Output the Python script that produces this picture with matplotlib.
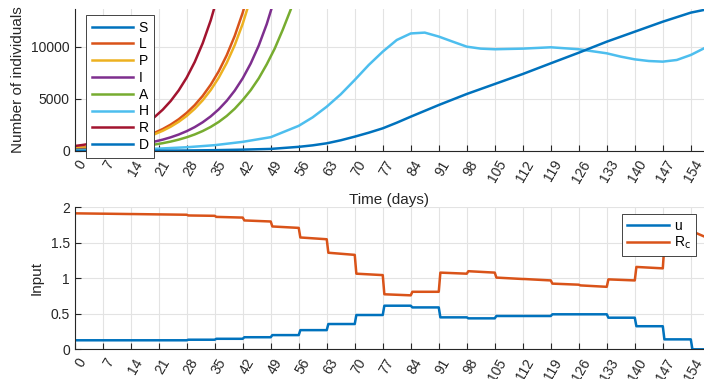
import numpy as np
import matplotlib
matplotlib.use('Agg')
import matplotlib.pyplot as plt
from matplotlib.transforms import ScaledTranslation

plt.rcParams['font.family'] = ['Liberation Sans', 'DejaVu Sans']
plt.rcParams['font.size'] = 10

# цвета как в MATLAB
C_BLUE = '#0072BD'
C_ORANGE = '#D95319'
C_YELLOW = '#EDB120'
C_PURPLE = '#7E2F8E'
C_GREEN = '#77AC30'
C_CYAN = '#4DBEEE'
C_RED = '#A2142F'
AX_COL = '#262626'

# --- верхний график: численность ---
t_exp = list(range(0, 58, 2))
R_vals = [480, 582, 705, 854, 1035, 1254, 1520, 1841, 2231, 2703, 3276, 3969, 4809, 5827,
          7061, 8556, 10367, 12562, 15221]
L_vals = [279, 335, 403, 485, 583, 700, 842, 1012, 1216, 1462, 1757, 2112, 2539, 3052, 3668,
          4409, 5300, 6371, 7658, 9205, 11064, 13299, 15986]
P_vals = [257, 308, 371, 446, 536, 644, 775, 931, 1119, 1345, 1616, 1943, 2336, 2808, 3375,
          4056, 4876, 5861, 7045, 8469, 10179, 12235, 14707]
I_vals = [142, 171, 206, 248, 298, 359, 432, 520, 626, 754, 908, 1093, 1316, 1584, 1907, 2296,
          2764, 3328, 4006, 4823, 5806, 6990, 8415, 10131, 12197, 14684]
A_vals = [96, 116, 139, 168, 203, 244, 295, 356, 429, 517, 624, 752, 907, 1094, 1320, 1592,
          1920, 2316, 2793, 3369, 4063, 4900, 5850, 6980, 8330, 9850, 11650, 13600, 15900]

t_H = [0, 7, 14, 21, 28, 35, 42, 49, 56, 59.5, 63, 66.5, 70, 73.5, 77, 80.5, 84, 87.5, 91,
       94.5, 98, 101.5, 105, 112, 119, 126, 133, 136.5, 140, 143.5, 147, 150.5, 154, 157.3]
H_vals = [40, 80, 140, 230, 360, 560, 880, 1330, 2420, 3240, 4260, 5450, 6830, 8270, 9550,
          10670, 11300, 11380, 11000, 10510, 10030, 9840, 9780, 9840, 9970, 9780, 9390,
          9070, 8810, 8650, 8590, 8750, 9230, 9870]

t_D = [0, 7, 14, 21, 28, 35, 42, 49, 56, 59.5, 63, 66.5, 70, 73.5, 77, 80.5, 84, 91, 98,
       105, 112, 119, 126, 133, 140, 147, 154, 157.3]
D_vals = [0, 5, 15, 30, 50, 80, 130, 200, 400, 545, 740, 1030, 1380, 1760, 2180, 2720, 3300,
          4420, 5480, 6440, 7400, 8430, 9450, 10510, 11470, 12430, 13300, 13560]

# --- нижний график: управление u и R_c по неделям ---
week_start = [0, 7, 14, 21, 28, 35, 42, 49, 56, 63, 70, 77, 84, 91, 98, 105, 112, 119, 126,
              133, 140, 147, 154]
week_end = week_start[1:] + [157.3]
u_week = [0.127, 0.127, 0.127, 0.127, 0.135, 0.148, 0.17, 0.2, 0.27, 0.356, 0.483, 0.614,
          0.59, 0.45, 0.436, 0.469, 0.469, 0.493, 0.493, 0.445, 0.325, 0.14, 0.0]
Rc_start = [1.915, 1.91, 1.905, 1.90, 1.885, 1.865, 1.815, 1.73, 1.575, 1.36, 1.065, 0.775,
            0.81, 1.08, 1.10, 1.01, 0.99, 0.925, 0.90, 0.985, 1.16, 1.47, 1.66]
Rc_end = [1.91, 1.905, 1.90, 1.895, 1.88, 1.855, 1.80, 1.71, 1.55, 1.33, 1.045, 0.76,
          0.81, 1.065, 1.08, 0.99, 0.97, 0.91, 0.88, 0.97, 1.14, 1.45, 1.59]

x_ticks = list(range(0, 155, 7))

W, H = 704, 379
fig = plt.figure(figsize=(W / 100, H / 100), dpi=100)
x0 = 74.7
xmax = 157.3
ax1 = fig.add_axes([x0 / W, 1 - 151 / H, (W - x0) / W, 142 / H])
ax2 = fig.add_axes([x0 / W, 1 - 349.3 / H, (W - x0) / W, 142 / H])

lw = 1.8
ax1.plot([], [], color=C_BLUE, lw=lw, label='S')
ax1.plot(t_exp[:len(L_vals)], L_vals, color=C_ORANGE, lw=lw, label='L')
ax1.plot(t_exp[:len(P_vals)], P_vals, color=C_YELLOW, lw=lw, label='P')
ax1.plot(t_exp[:len(I_vals)], I_vals, color=C_PURPLE, lw=lw, label='I')
ax1.plot(t_exp[:len(A_vals)], A_vals, color=C_GREEN, lw=lw, label='A')
ax1.plot(t_H, H_vals, color=C_CYAN, lw=lw, label='H')
ax1.plot(t_exp[:len(R_vals)], R_vals, color=C_RED, lw=lw, label='R')
ax1.plot(t_D, D_vals, color=C_BLUE, lw=lw, label='D')
ax1.set_ylim(0, 13650)
ax1.set_yticks([0, 5000, 10000])

# ступеньки: небольшая рампа в начале каждой недели
xs, us, rs = [], [], []
for s, e, u, r0, r1 in zip(week_start, week_end, u_week, Rc_start, Rc_end):
    st = s + 0.4 if s > 0 else s
    xs += [st, e]
    us += [u, u]
    rs += [r0, r1]
ax2.plot(xs, us, color=C_BLUE, lw=lw, label='u')
ax2.plot(xs, rs, color=C_ORANGE, lw=lw, label=r'R$_\mathrm{c}$')
ax2.set_ylim(0, 2)
ax2.set_yticks([0, 0.5, 1, 1.5, 2])
ax2.set_yticklabels(['0', '0.5', '1', '1.5', '2'])

for ax in (ax1, ax2):
    ax.set_xlim(0, xmax)
    ax.set_xticks(x_ticks)
    ax.set_xticklabels([str(v) for v in x_ticks])
    ax.grid(True, color='#e3e3e3', lw=0.8)
    ax.set_axisbelow(True)
    for side in ('top', 'right'):
        ax.spines[side].set_visible(False)
    for side in ('left', 'bottom'):
        ax.spines[side].set_color(AX_COL)
        ax.spines[side].set_linewidth(0.8)
    ax.tick_params(direction='in', length=4, width=0.8, color=AX_COL,
                   labelcolor=AX_COL, labelsize=10)
    ax.tick_params(axis='x', pad=5)
    offset = ScaledTranslation(0.02, 0, fig.dpi_scale_trans)
    for lab in ax.get_xticklabels():
        lab.set_rotation(60)
        lab.set_ha('right')
        lab.set_va('top')
        lab.set_rotation_mode('anchor')
        lab.set_transform(lab.get_transform() + offset)

ax1.set_ylabel('Number of individuals', color=AX_COL, fontsize=11)
ax1.yaxis.set_label_coords((25 - x0) / (W - x0), 0.5)
ax1.set_xlabel('Time (days)', color=AX_COL, fontsize=11)
ax1.xaxis.set_label_coords(0.5, -(193 - 151) / 142)
ax2.set_ylabel('Input', color=AX_COL, fontsize=11)
ax2.yaxis.set_label_coords((44 - x0) / (W - x0), 0.5)

leg1 = ax1.legend(loc='upper left', bbox_to_anchor=(86 / W, 1 - 15 / H),
                  bbox_transform=fig.transFigure, borderaxespad=0, fancybox=False,
                  framealpha=1, edgecolor=AX_COL, handlelength=3.0, handletextpad=0.4,
                  labelspacing=0.2, borderpad=0.4)
leg1.get_frame().set_linewidth(0.6)
leg2 = ax2.legend(loc='upper right', bbox_to_anchor=(696 / W, 1 - 214 / H),
                  bbox_transform=fig.transFigure, borderaxespad=0, fancybox=False,
                  framealpha=1, edgecolor=AX_COL, handlelength=3.0, handletextpad=0.4,
                  labelspacing=0.12, borderpad=0.35)
leg2.get_frame().set_linewidth(0.6)

fig.savefig('out.png', dpi=100)
